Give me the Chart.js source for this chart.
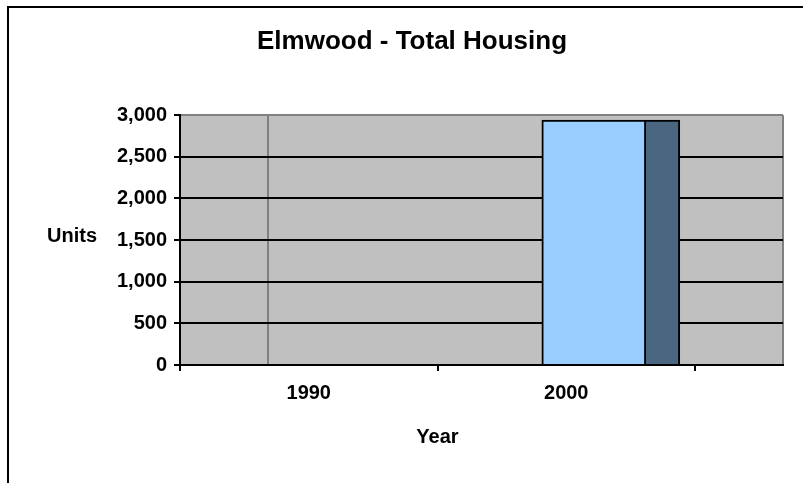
<!DOCTYPE html>
<html><head><meta charset="utf-8">
<script src="https://cdn.jsdelivr.net/npm/chart.js@4"></script>
<style>html,body{margin:0;padding:0;background:#fff}canvas{display:block}</style>
</head><body>
<canvas id="c" width="803" height="483"></canvas>
<script>
// ---- data ----
const categories = ['1990', '2000'];
const seriesLight = [null, 2940];
const seriesDark = [null, 2940];
const yTickValues = [0, 500, 1000, 1500, 2000, 2500, 3000];
const chartTitle = 'Elmwood - Total Housing';
const xAxisTitle = 'Year';
const yAxisTitle = 'Units';

// ---- layout constants (axis units: one category = 1) ----
const X_MAX = 603 / 257.5;      // plot extends beyond the last category
const GROUP_POS = 0.809;        // where the bar pair meets inside its category
const V_GRID = 0.3406;          // stray vertical gridline

const FONT = "'Liberation Sans', Arial, Helvetica, sans-serif";
Chart.defaults.font.family = FONT;
Chart.defaults.color = '#000';

function toPoints(arr) {
  return arr.map((v, i) => v == null ? null : { x: i + GROUP_POS, y: v }).filter(p => p);
}
const near = (a, b) => Math.abs(a - b) < 1e-6;

const decor = {
  id: 'decor',
  beforeDraw(chart) {
    const { ctx, chartArea: a } = chart;
    ctx.save();
    ctx.fillStyle = '#fff';
    ctx.fillRect(0, 0, chart.width, chart.height);
    ctx.fillStyle = '#c0c0c0';
    ctx.fillRect(a.left, a.top, a.right - a.left, a.bottom - a.top);
    ctx.restore();
  },
  afterDraw(chart) {
    const { ctx } = chart;
    ctx.save();
    ctx.fillStyle = '#000';
    ctx.fillRect(7, 6, chart.width, 2);
    ctx.fillRect(7, 6, 2, chart.height);
    ctx.font = 'bold 20px ' + FONT;
    ctx.textBaseline = 'alphabetic';
    ctx.textAlign = 'left';
    ctx.fillText(yAxisTitle, 47, 242);
    ctx.textAlign = 'center';
    ctx.fillText(xAxisTitle, chart.scales.x.getPixelForValue(1), 443);
    ctx.restore();
  }
};

new Chart(document.getElementById('c'), {
  type: 'bar',
  data: {
    datasets: [
      { data: toPoints(seriesLight), backgroundColor: '#99ccff', borderColor: '#000',
        borderWidth: 2, barThickness: 104 },
      { data: toPoints(seriesDark), backgroundColor: '#4b6680', borderColor: '#000',
        borderWidth: { left: 0, right: 2, top: 2, bottom: 0 }, barThickness: 34 }
    ]
  },
  options: {
    responsive: false,
    animation: false,
    layout: { padding: { left: 41, right: 20, top: 0, bottom: 0 } },
    plugins: {
      legend: { display: false },
      tooltip: { enabled: false },
      title: {
        display: true, text: chartTitle, color: '#000',
        font: { size: 26, weight: 'bold' },
        padding: { top: 26, bottom: 58 }
      }
    },
    scales: {
      x: {
        type: 'linear', min: 0, max: X_MAX, offset: false,
        afterBuildTicks: s => { s.ticks = [0, V_GRID, 0.5, 1, 1.5, 2, X_MAX].map(v => ({ value: v })); },
        afterFit: s => { s.height = 118; },
        ticks: {
          autoSkip: false, maxRotation: 0, padding: 10,
          font: { size: 20, weight: 'bold' },
          callback: v => { const i = v - 0.5; return Number.isInteger(i) && categories[i] ? categories[i] : ''; }
        },
        grid: {
          offset: false,
          drawOnChartArea: true, drawTicks: true, tickLength: 6, lineWidth: 2, tickWidth: 2,
          color: c => (c.tick && (near(c.tick.value, V_GRID) || near(c.tick.value, X_MAX))) ? '#808080' : 'rgba(0,0,0,0)',
          tickColor: c => (c.tick && Number.isInteger(c.tick.value)) ? '#000' : 'rgba(0,0,0,0)'
        },
        border: { display: true, color: '#000', width: 2 }
      },
      y: {
        min: 0, max: 3000,
        afterBuildTicks: s => { s.ticks = yTickValues.map(v => ({ value: v })); },
        afterFit: s => { s.width = 139; },
        ticks: {
          padding: 7,
          font: { size: 20, weight: 'bold' },
          callback: v => v.toLocaleString('en-US')
        },
        grid: {
          drawTicks: true, tickLength: 6, lineWidth: 2, tickWidth: 2,
          color: c => (c.tick && c.tick.value === 3000) ? '#808080' : '#000',
          tickColor: '#000'
        },
        border: { display: true, color: '#000', width: 2 }
      }
    }
  },
  plugins: [decor]
});
</script>
</body></html>
